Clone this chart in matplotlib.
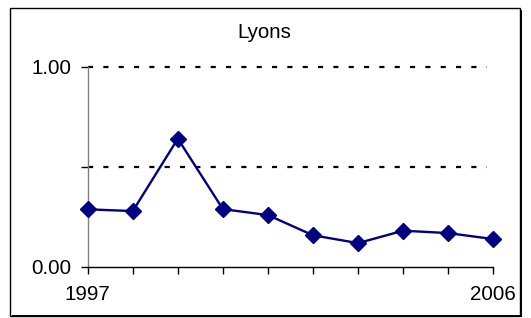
import matplotlib
matplotlib.use("Agg")
import matplotlib.pyplot as plt
from matplotlib.patches import Rectangle

years = [1997, 1998, 1999, 2000, 2001, 2002, 2003, 2004, 2005, 2006]
values = [0.287, 0.278, 0.640, 0.288, 0.258, 0.157, 0.118, 0.180, 0.168, 0.138]
title = "Lyons"
y_ticks = [0.0, 0.5, 1.0]
y_ticklabels = ["0.00", "", "1.00"]
x_ticklabels = ["1997"] + [""] * 8 + ["2006"]

plt.rcParams['font.family'] = ['Liberation Sans', 'DejaVu Sans']

fig = plt.figure(figsize=(5.31, 3.18), dpi=100)
fig.patch.set_facecolor('white')

# outer border
fig.patches.append(Rectangle((10 / 531, 1 - 316 / 318), 510 / 531, 308 / 318,
                             transform=fig.transFigure, fill=False,
                             edgecolor='black', linewidth=1.0))
fig.patches.append(Rectangle((520 / 531, 1 - 317 / 318), 2 / 531, 307 / 318,
                             transform=fig.transFigure, fill=True,
                             facecolor='black', edgecolor='none'))
fig.patches.append(Rectangle((12 / 531, 1 - 317 / 318), 510 / 531, 2 / 318,
                             transform=fig.transFigure, fill=True,
                             facecolor='black', edgecolor='none'))

ax = fig.add_axes([87.7 / 531, 1 - 266.7 / 318, (493.3 - 87.7) / 531, 200 / 318])
ax.set_xlim(years[0], years[-1])
ax.set_ylim(0, 1)

for yv in [0.5, 1.0]:
    ax.axhline(yv, color='black', linewidth=1.6, linestyle=(0, (2.3, 4.6)),
               xmax=0.985, zorder=1, clip_on=False)

ax.plot(years, values, color='#000080', linewidth=1.7, marker='D',
        markersize=8, markerfacecolor='#000080', markeredgecolor='#000080',
        zorder=3, clip_on=False)

for s in ['top', 'right']:
    ax.spines[s].set_visible(False)
ax.spines['left'].set_color('#808080')
ax.spines['left'].set_linewidth(1.0)
ax.spines['bottom'].set_color('black')
ax.spines['bottom'].set_linewidth(1.0)

ax.set_xticks(years)
ax.set_xticklabels(x_ticklabels)
ax.set_yticks(y_ticks)
ax.set_yticklabels(y_ticklabels)
ax.tick_params(axis='both', direction='out', length=5, width=1.0,
               color='black', labelsize=14.8, labelcolor='black')
ax.tick_params(axis='x', pad=8)
ax.tick_params(axis='y', pad=7)

fig.text(264 / 531, 1 - 32 / 318, title, ha='center', va='center',
         fontsize=14.8, color='black')

fig.savefig('out.png', dpi=100, facecolor='white')
